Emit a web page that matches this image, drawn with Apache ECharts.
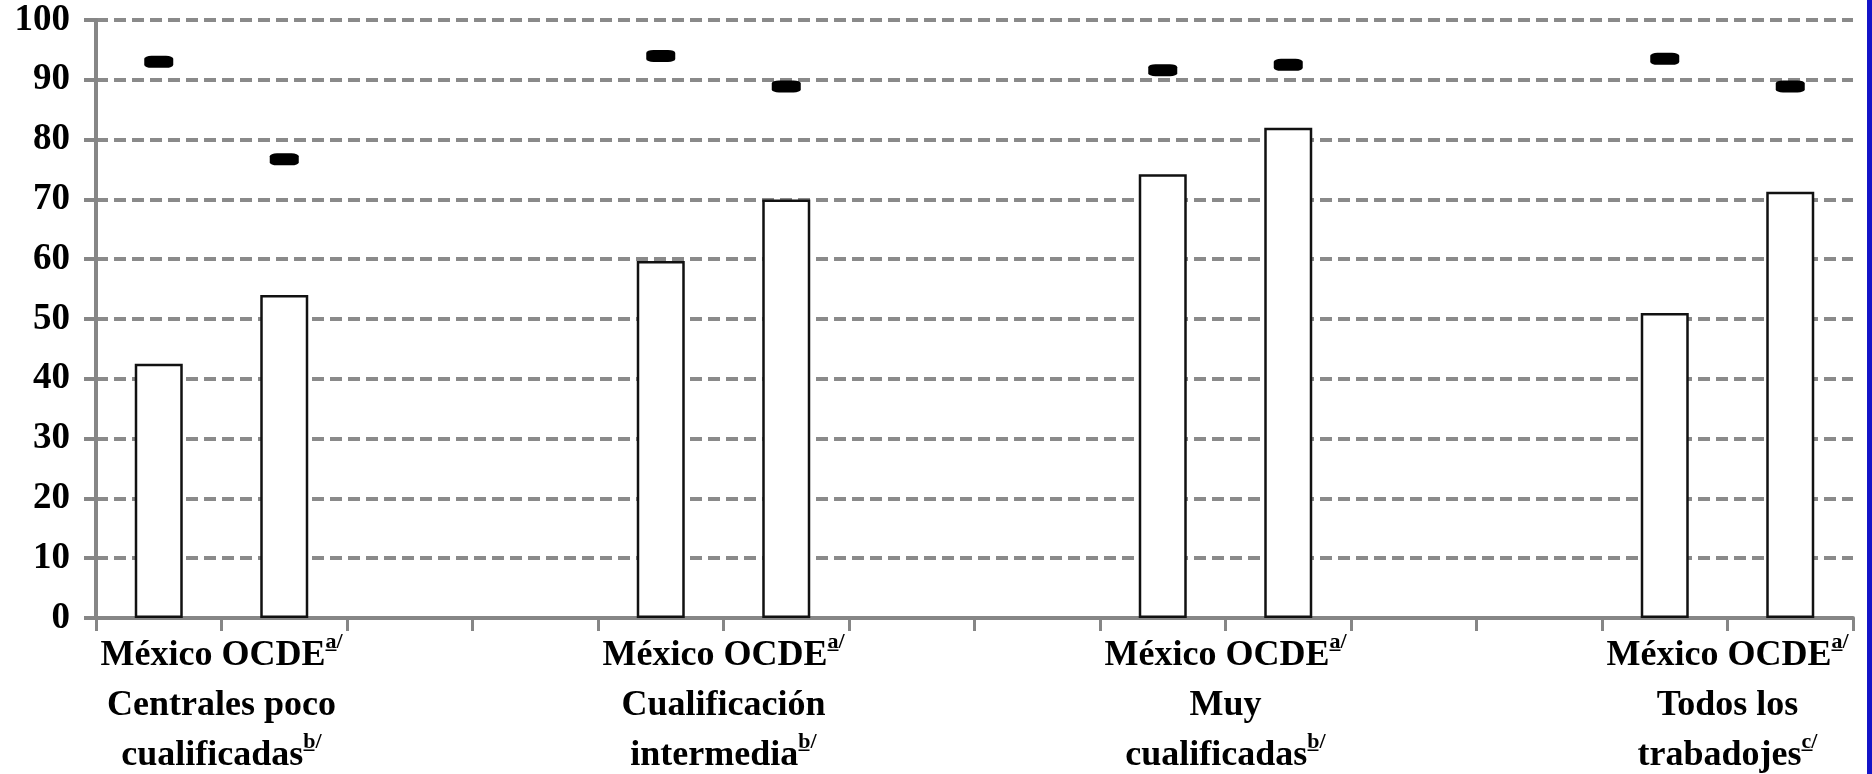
<!DOCTYPE html>
<html><head><meta charset="utf-8">
<script src="https://cdn.jsdelivr.net/npm/echarts@6/dist/echarts.min.js"></script>
<style>
html,body{margin:0;padding:0;background:#fff;}
#c{width:1872px;height:774px;}
#edge{position:absolute;right:0;top:0;width:5px;height:774px;background:#1414c8;}
</style></head><body>
<div id="c"></div><div id="edge"></div>
<script>
// 14 category slots: México, OCDE, two empty spacers per group
const categories = ['México','OCDE','','','México','OCDE','','','México','OCDE','','','México','OCDE'];
const barValues    = [42.5, 54.0, null, null, 59.7, 70.0, null, null, 74.2, 82.0, null, null, 51.0, 71.3];
const markerValues = [93.0, 76.7, null, null, 94.0, 88.9, null, null, 91.6, 92.5, null, null, 93.5, 88.9];
// group labels (one per pair of slots)
const pairText = 'México OCDE';
const pairNote = 'a̲/';
const groupLine1 = ['Centrales poco', '', 'Cualificación', '', 'Muy', '', 'Todos los'];
const groupLine2 = ['cualificadas', '', 'intermedia', '', 'cualificadas', '', 'trabadojes'];
const groupNotes = ['b̲/', '', 'b̲/', '', 'b̲/', '', 'c̲/'];
const yTicks = [0,10,20,30,40,50,60,70,80,90,100];

const FONT = '"Liberation Serif", "Times New Roman", serif';
const chart = echarts.init(document.getElementById('c'));
chart.setOption({
  backgroundColor: '#fff',
  animation: false,
  grid: { left: 96, right: 19, top: 20, bottom: 154, containLabel: false },
  xAxis: [
    {
      type: 'category', data: categories, boundaryGap: true,
      axisLine: { show: true, lineStyle: { color: '#868686', width: 4 } },
      axisTick: { show: true, length: 13, alignWithLabel: false, interval: 0, lineStyle: { color: '#868686', width: 3 } },
      axisLabel: { show: false },
      splitLine: { show: false }
    },
    {
      type: 'category', data: groupLine1.map((g, i) => i), position: 'bottom', boundaryGap: true,
      axisLine: { show: false }, axisTick: { show: false }, splitLine: { show: false },
      axisLabel: {
        show: true, interval: 0, margin: 13,
        formatter: function (v, i) {
          if (!groupLine1[i]) return '';
          return '{t|' + pairText + '}{s|' + pairNote + '}\n{t|' + groupLine1[i] + '}\n{t|' + groupLine2[i] + '}{s|' + groupNotes[i] + '}';
        },
        rich: {
          t: { fontFamily: FONT, fontWeight: 'bold', fontSize: 36, lineHeight: 50, color: '#000' },
          s: { fontFamily: FONT, fontWeight: 'bold', fontSize: 22, lineHeight: 38, verticalAlign: 'top', color: '#000' }
        }
      }
    }
  ],
  yAxis: {
    type: 'value', min: 0, max: 100, interval: 10,
    axisLine: { show: true, lineStyle: { color: '#868686', width: 4 } },
    axisTick: { show: true, length: 12, lineStyle: { color: '#868686', width: 4 } },
    axisLabel: {
      margin: 26, fontFamily: FONT, fontWeight: 'bold', fontSize: 37, color: '#000',
      formatter: v => yTicks.includes(v) ? String(v) : ''
    },
    splitLine: { show: true, lineStyle: { color: '#8a8a8a', width: 4, type: [12, 6] } }
  },
  series: [
    {
      type: 'bar', xAxisIndex: 0, data: barValues, barWidth: 48,
      itemStyle: { color: '#fff', borderColor: '#111', borderWidth: 2.5 },
      z: 2
    },
    {
      type: 'scatter', xAxisIndex: 0, data: markerValues,
      symbol: 'roundRect', symbolSize: [29, 12],
      itemStyle: { color: '#000', opacity: 1 }, z: 3
    }
  ]
});
</script>
</body></html>
